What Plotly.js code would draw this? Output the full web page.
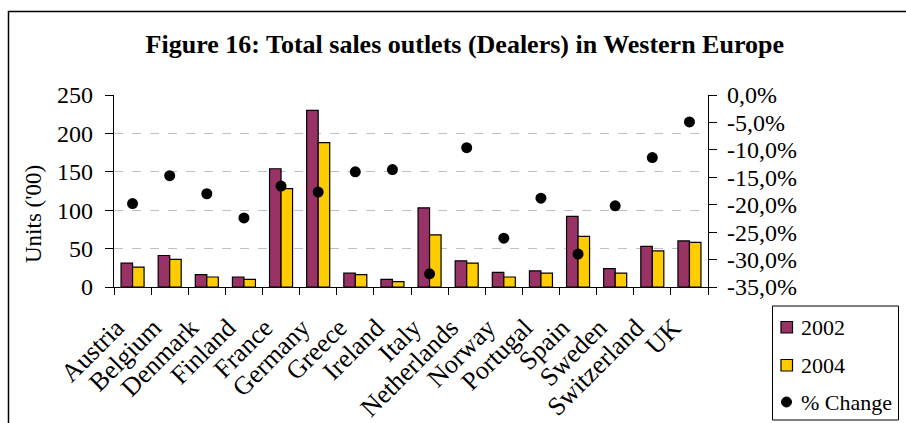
<!DOCTYPE html>
<html>
<head>
<meta charset="utf-8">
<script src="https://cdn.plot.ly/plotly-3.0.1.min.js"></script>
<style>
html,body{margin:0;padding:0;background:#fff;}
#chart{width:906px;height:423px;}
</style>
</head>
<body>
<div id="chart"></div>
<script>
const countries = ["Austria","Belgium","Denmark","Finland","France","Germany","Greece","Ireland","Italy","Netherlands","Norway","Portugal","Spain","Sweden","Switzerland","UK"];
const units2002 = [31, 41, 16, 13, 154, 230, 18, 10, 103, 34, 19, 21, 92, 24, 53, 60];
const units2004 = [26, 36, 13, 10, 128, 188, 16, 7, 68, 31, 13, 18, 66, 18, 47, 58];
const pctChange = [-19.8, -14.7, -18.0, -22.4, -16.6, -17.7, -14.0, -13.6, -32.6, -9.6, -26.1, -18.8, -29.0, -20.2, -11.4, -4.9];
const leftTickVals = [0, 50, 100, 150, 200, 250];
const rightTickVals = [0, -5, -10, -15, -20, -25, -30, -35];
const rightTickText = ["0,0%", "-5,0%", "-10,0%", "-15,0%", "-20,0%", "-25,0%", "-30,0%", "-35,0%"];
const seriesNames = ["2002", "2004", "% Change"];
const seriesColors = ["#993366", "#FFCC00", "#000000"];

const serif = '"Liberation Serif", "Times New Roman", Times, serif';

// plot area geometry (pixels) used only to place the hand-drawn legend
const M = {l: 114, r: 198, t: 95, b: 136};
const W = 906, H = 423;
const PW = W - M.l - M.r, PH = H - M.t - M.b;
const px = v => (v - M.l) / PW;
const py = v => (H - M.b - v) / PH;

const traces = [
  {
    type: 'bar', name: seriesNames[0], x: countries, y: units2002,
    marker: {color: seriesColors[0], line: {color: '#000', width: 1.2}}
  },
  {
    type: 'bar', name: seriesNames[1], x: countries, y: units2004,
    marker: {color: seriesColors[1], line: {color: '#000', width: 1.2}}
  },
  {
    type: 'scatter', mode: 'markers', name: seriesNames[2], x: countries, y: pctChange,
    yaxis: 'y2', marker: {color: seriesColors[2], size: 11}
  }
];

// legend drawn by hand
const legendShapes = [
  {type: 'rect', xref: 'paper', yref: 'paper', x0: px(772.5), x1: px(898.5), y0: py(420), y1: py(306),
   line: {color: '#000', width: 1}, fillcolor: '#fff'},
  {type: 'rect', xref: 'paper', yref: 'paper', x0: px(781), x1: px(792.5), y0: py(333), y1: py(321.5),
   line: {color: '#000', width: 1.2}, fillcolor: seriesColors[0]},
  {type: 'rect', xref: 'paper', yref: 'paper', x0: px(781), x1: px(792.5), y0: py(371), y1: py(359.5),
   line: {color: '#000', width: 1.2}, fillcolor: seriesColors[1]},
  {type: 'circle', xref: 'paper', yref: 'paper', x0: px(781.5), x1: px(791.5), y0: py(407), y1: py(397),
   line: {color: '#000', width: 1}, fillcolor: seriesColors[2]}
];
const legendY = [327, 365, 402];
const legendAnn = seriesNames.map((n, i) => ({
  text: '<span style="font-family:Liberation Serif">' + n + '</span>',
  xref: 'paper', yref: 'paper', x: px(799), y: py(legendY[i]),
  xanchor: 'left', yanchor: 'middle', showarrow: false,
  font: {family: 'Liberation Serif', size: 22, color: '#000'}
}));

const layout = {
  width: W, height: H,
  margin: {l: M.l, r: M.r, t: M.t, b: M.b, autoexpand: false},
  paper_bgcolor: '#fff', plot_bgcolor: '#fff',
  font: {family: serif, color: '#000', size: 22},
  title: {
    text: '<b>Figure 16: Total sales outlets (Dealers) in Western Europe</b>',
    font: {family: serif, size: 26, color: '#000'},
    x: 0.513, xanchor: 'center', y: 0.897, yanchor: 'middle'
  },
  barmode: 'group', bargap: 0.38, bargroupgap: 0,
  showlegend: false,
  xaxis: {
    type: 'category', range: [-0.5, countries.length - 0.5],
    tickson: 'boundaries', ticks: 'outside', ticklen: 7, tickcolor: '#000',
    showline: true, linecolor: '#000', linewidth: 1.2, showgrid: false,
    tickangle: -45, ticklabelstandoff: 14, ticklabelshift: -16,
    tickfont: {family: serif, size: 26, color: '#000'}
  },
  yaxis: {
    range: [0, 250], tickvals: leftTickVals, ticks: 'outside', ticklen: 8, tickcolor: '#000',
    showline: true, linecolor: '#000', linewidth: 1.2,
    showgrid: true, gridcolor: '#c0c0c0', griddash: 'dash', gridwidth: 1,
    zeroline: false, ticklabelstandoff: 7,
    tickfont: {family: serif, size: 24, color: '#000'}
  },
  yaxis2: {
    overlaying: 'y', side: 'right', range: [-35, 0],
    tickvals: rightTickVals, ticktext: rightTickText,
    ticks: 'outside', ticklen: 8, tickcolor: '#000',
    showline: true, linecolor: '#000', linewidth: 1.2, showgrid: false, zeroline: false,
    ticklabelstandoff: 5,
    tickfont: {family: serif, size: 24, color: '#000'}
  },
  annotations: [
    {text: "Units ('00)", xref: 'paper', yref: 'paper', x: px(33), y: py(214),
     xanchor: 'center', yanchor: 'middle', textangle: -90, showarrow: false,
     font: {family: serif, size: 23, color: '#000'}}
  ].concat(legendAnn),
  shapes: [
    {type: 'rect', xref: 'paper', yref: 'paper',
     x0: px(8.5), x1: 1.5, y0: -1.0, y1: py(11.5),
     line: {color: '#000', width: 1.5}, fillcolor: 'rgba(0,0,0,0)', layer: 'below'}
  ].concat(legendShapes)
};

Plotly.newPlot('chart', traces, layout, {displayModeBar: false, responsive: false});
</script>
</body>
</html>
